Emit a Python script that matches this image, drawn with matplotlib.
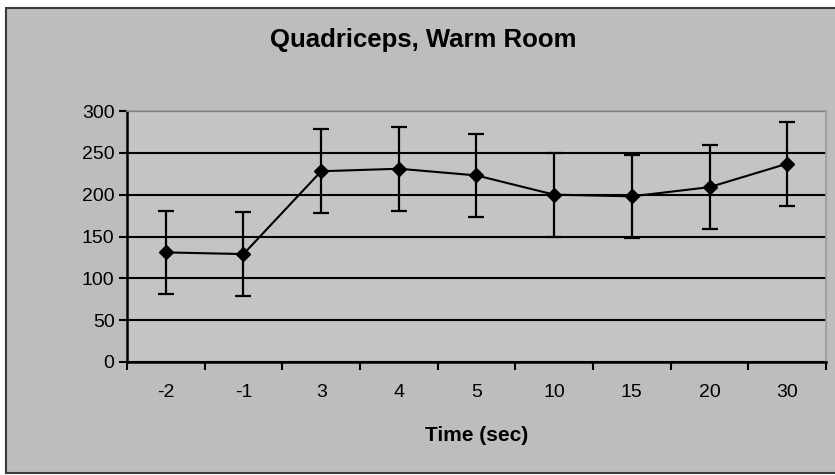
import matplotlib.pyplot as plt
from matplotlib.patches import Rectangle
from matplotlib.ticker import FixedLocator, NullFormatter

plt.rcParams['font.family'] = ['Liberation Sans', 'DejaVu Sans']

times = ["-2", "-1", "3", "4", "5", "10", "15", "20", "30"]
force = [131, 129, 228, 231, 223, 200, 198, 209, 237]
err = [50, 50, 50, 50, 50, 50, 50, 50, 50]

fig = plt.figure(figsize=(8.35, 4.75), dpi=100)
fig.patch.set_facecolor("white")

# chart area frame
frame = Rectangle((6 / 835, 2 / 475), 1, 1 - 10 / 475, transform=fig.transFigure,
                  facecolor="#bdbdbd", edgecolor="#3a3a3a", linewidth=1.5, zorder=-10)
fig.add_artist(frame)

ax = fig.add_axes([127 / 835, 1 - 362 / 475, 699 / 835, 251 / 475])
ax.set_facecolor("#c4c4c4")

x = list(range(len(times)))
ax.errorbar(x, force, yerr=err, color="black", marker="D", markersize=7,
            linewidth=1.5, elinewidth=1.6, capsize=6, capthick=1.6, zorder=3)

ax.set_xlim(-0.5, len(times) - 0.5)
ax.set_ylim(0, 300)
ax.set_yticks(range(0, 301, 50))
ax.yaxis.grid(True, color="black", linewidth=1.5)
ax.set_axisbelow(True)

ax.set_xticks(x)
ax.set_xticklabels(times)
ax.xaxis.set_minor_locator(FixedLocator([i - 0.5 for i in range(len(times) + 1)]))
ax.xaxis.set_minor_formatter(NullFormatter())
ax.tick_params(axis="x", which="major", length=0, pad=16, labelsize=14)
ax.tick_params(axis="x", which="minor", length=6, width=1.5, direction="out")
ax.tick_params(axis="y", length=6, width=1.5, labelsize=14, pad=3)

for s in ["left", "bottom"]:
    ax.spines[s].set_linewidth(1.8)
    ax.spines[s].set_color("black")
for s in ["top", "right"]:
    ax.spines[s].set_linewidth(1.2)
    ax.spines[s].set_color("#9a9a9a")

ax.set_xlabel("Time (sec)", fontsize=15, fontweight="bold", labelpad=18)
fig.text(423 / 835, 1 - 40 / 475, "Quadriceps, Warm Room", fontsize=18.5,
         fontweight="bold", ha="center", va="center")

fig.savefig("out.png", dpi=100)
